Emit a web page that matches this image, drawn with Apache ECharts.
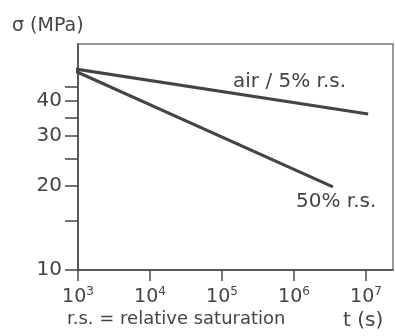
<!DOCTYPE html>
<html>
<head>
<meta charset="utf-8">
<script src="https://cdn.jsdelivr.net/npm/echarts@6/dist/echarts.min.js"></script>
<style>
  html, body { margin: 0; padding: 0; background: #fff; }
  #chart { width: 395px; height: 336px; }
</style>
</head>
<body>
<div id="chart"></div>
<script>
// time (s) and stress (MPa)
const airT = [724, 1.07e7];
const airS = [52.6, 36];
const wetT = [724, 3.47e6];
const wetS = [52.6, 19.8];

const xTicks = [1e3, 1e4, 1e5, 1e6, 1e7];
const yLabels = [10, 20, 30, 40];
const yTicks = [10, 15, 20, 25, 30, 35, 40, 45];

const ink = '#444';
const font = 'DejaVu Sans';

const pairs = (xs, ys) => xs.map((x, i) => [x, ys[i]]);

const chart = echarts.init(document.getElementById('chart'));

const option = {
    animation: false,
    grid: {
        left: 78, right: 2, top: 44, bottom: 66,
        show: true,
        borderColor: '#777',
        borderWidth: 1.5
    },
    xAxis: {
        type: 'log',
        logBase: 10,
        min: 1000,
        max: 2.37e7,
        axisLine: { lineStyle: { color: ink, width: 1.5 } },
        axisTick: {
            customValues: xTicks,
            length: 11,
            lineStyle: { color: ink, width: 1.5 }
        },
        axisLabel: {
            customValues: xTicks,
            margin: 16,
            color: ink,
            fontFamily: font,
            formatter: v => '{b|10}{s|' + Math.round(Math.log10(v)) + '}',
            rich: {
                b: { fontSize: 19, lineHeight: 22, color: ink, fontFamily: font },
                s: { fontSize: 12, lineHeight: 12, verticalAlign: 'top', color: ink, fontFamily: font }
            }
        },
        splitLine: { show: false }
    },
    yAxis: {
        type: 'log',
        logBase: 10,
        min: 10,
        max: 64,
        axisLine: { lineStyle: { color: ink, width: 1.5 } },
        axisTick: {
            customValues: yTicks,
            length: 13,
            lineStyle: { color: ink, width: 1.5 }
        },
        axisLabel: {
            customValues: yLabels,
            margin: 16,
            color: ink,
            fontSize: 20,
            fontFamily: font
        },
        splitLine: { show: false }
    },
    series: [
        {
            name: 'air / 5% r.s.',
            type: 'line',
            data: pairs(airT, airS),
            clip: false,
            symbol: 'none',
            lineStyle: { color: '#444', width: 3 }
        },
        {
            name: '50% r.s.',
            type: 'line',
            data: pairs(wetT, wetS),
            clip: false,
            symbol: 'none',
            lineStyle: { color: '#444', width: 3 }
        }
    ],
    graphic: [
        { type: 'text', left: 12, top: 17, style: { text: 'σ (MPa)', fill: ink, font: '19px "DejaVu Sans"' } },
        { type: 'text', left: 233, top: 72, style: { text: 'air / 5% r.s.', fill: ink, font: '20px "DejaVu Sans"' } },
        { type: 'text', left: 296, top: 192, style: { text: '50% r.s.', fill: ink, font: '20px "DejaVu Sans"' } },
        { type: 'text', left: 67, top: 310, style: { text: 'r.s. = relative saturation', fill: ink, font: '18px "DejaVu Sans"' } },
        { type: 'text', left: 343, top: 311, style: { text: 't (s)', fill: ink, font: '20px "DejaVu Sans"' } }
    ]
};

chart.setOption(option);
</script>
</body>
</html>
